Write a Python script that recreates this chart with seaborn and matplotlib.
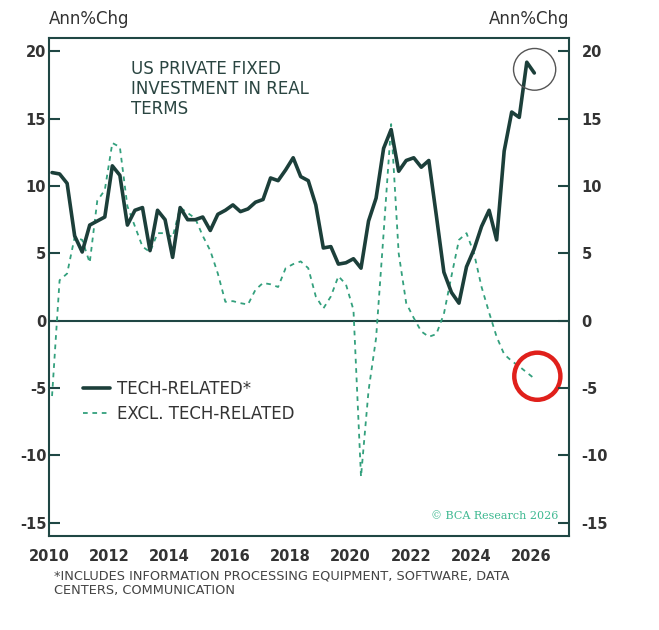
import numpy as np
import pandas as pd
import seaborn as sns
import matplotlib.pyplot as plt
from matplotlib.patches import Ellipse

# quarterly observations, 2010Q1 .. 2026Q1
dates = 2010.1 + 0.25 * np.arange(65)

tech = [11.0, 10.9, 10.2, 6.3, 5.1, 7.1, 7.4, 7.7, 11.5, 10.8,
        7.1, 8.2, 8.4, 5.2, 8.2, 7.5, 4.7, 8.4, 7.5, 7.5,
        7.7, 6.7, 7.9, 8.2, 8.6, 8.1, 8.3, 8.8, 9.0, 10.6,
        10.4, 11.2, 12.1, 10.7, 10.4, 8.6, 5.4, 5.5, 4.2, 4.3,
        4.6, 3.9, 7.4, 9.1, 12.8, 14.2, 11.1, 11.9, 12.1, 11.4,
        11.9, 7.8, 3.6, 2.1, 1.3, 4.0, 5.3, 7.0, 8.2, 6.0,
        12.6, 15.5, 15.1, 19.2, 18.4]

excl_tech = [-5.6, 3.0, 3.5, 6.2, 6.0, 4.3, 8.9, 9.7, 13.2, 12.9,
             8.5, 7.0, 5.5, 5.1, 6.5, 6.5, 6.2, 8.4, 8.0, 7.6,
             6.3, 5.2, 3.5, 1.4, 1.45, 1.3, 1.2, 2.3, 2.8, 2.7,
             2.5, 3.9, 4.2, 4.4, 3.9, 1.8, 0.9, 1.8, 3.3, 2.7,
             0.8, -11.6, -5.2, -1.3, 6.5, 14.6, 5.0, 1.3, 0.2, -0.8,
             -1.2, -1.0, 0.5, 3.3, 6.0, 6.5, 5.0, 2.5, 0.6, -1.2,
             -2.5, -3.0, -3.4, -3.85, -4.3]

year_ticks = [2010, 2012, 2014, 2016, 2018, 2020, 2022, 2024, 2026]
val_ticks = [-15, -10, -5, 0, 5, 10, 15, 20]

df = pd.DataFrame({"date": dates, "tech": tech, "excl": excl_tech})

dark = "#1c3f3a"
axis_col = "#1f4744"
green = "#33a07d"
txt_col = "#333333"

sns.set_style("white")
plt.rcParams["font.family"] = ["DejaVu Sans"]
plt.rcParams["axes.unicode_minus"] = False

fig = plt.figure(figsize=(6.59, 6.3), dpi=100)
ax = fig.add_axes([0.0744, 0.1492, 0.789, 0.7905])

sns.lineplot(data=df, x="date", y="excl", ax=ax, color=green, lw=1.3,
             label="EXCL. TECH-RELATED")
ax.lines[-1].set_dashes((2.6, 2.6))
sns.lineplot(data=df, x="date", y="tech", ax=ax, color=dark, lw=2.6,
             label="TECH-RELATED*", zorder=3)

ax.axhline(0, color=axis_col, lw=1.5, zorder=1)

ax.set_xlim(2010, 2027.25)
ax.set_ylim(-16, 21)
ax.set_xticks(year_ticks)
ax.set_xticklabels([str(y) for y in year_ticks], fontweight="bold")
ax.set_yticks(val_ticks)
ax.set_yticklabels([str(v) for v in val_ticks], fontweight="bold")
ax.set_xlabel("")
ax.set_ylabel("")

for s in ax.spines.values():
    s.set_visible(True)
    s.set_color(axis_col)
    s.set_linewidth(1.5)

ax.tick_params(axis="both", direction="in", length=8, width=1.5, color=axis_col,
               labelsize=10.5, labelcolor=txt_col)
ax.tick_params(axis="y", pad=2)
ax.tick_params(axis="x", pad=9)

# right-hand scale
ax2 = ax.twinx()
ax2.set_ylim(ax.get_ylim())
ax2.set_yticks(val_ticks)
ax2.set_yticklabels([str(v) for v in val_ticks], fontweight="bold")
ax2.tick_params(axis="y", direction="in", length=8, width=1.5, color=axis_col,
                labelsize=10.5, labelcolor=txt_col, pad=9)
for s in ax2.spines.values():
    s.set_visible(False)

# legend
handles, labels = ax.get_legend_handles_labels()
order = [1, 0]
leg = ax.legend([handles[i] for i in order], [labels[i] for i in order],
                loc="upper left", bbox_to_anchor=(0.053, 0.326), frameon=False,
                fontsize=12, handlelength=1.6, handletextpad=0.4,
                labelspacing=0.42, borderaxespad=0)
for txt in leg.get_texts():
    txt.set_color(txt_col)

# annotations
ax.text(0.157, 0.955, "US PRIVATE FIXED\nINVESTMENT IN REAL\nTERMS",
        transform=ax.transAxes, ha="left", va="top", fontsize=12,
        color="#2a4541", linespacing=1.12)
fig.text(0.0744, 0.955, "Ann%Chg", ha="left", va="bottom", fontsize=12,
         color=txt_col)
fig.text(0.8634, 0.955, "Ann%Chg", ha="right", va="bottom", fontsize=12,
         color=txt_col)
ax.text(0.98, 0.03, "\u00a9 BCA Research 2026", transform=ax.transAxes,
        ha="right", va="bottom", fontsize=8, color="#3cb890",
        family="DejaVu Serif")
fig.text(0.082, 0.096,
         "*INCLUDES INFORMATION PROCESSING EQUIPMENT, SOFTWARE, DATA\nCENTERS, COMMUNICATION",
         ha="left", va="top", fontsize=9.3, color="#444444", linespacing=1.15)

ax.add_patch(Ellipse((2026.11, 18.67), 1.4, 3.1, fill=False,
                     edgecolor="#555555", lw=1.0, zorder=4))
ax.add_patch(Ellipse((2026.2, -4.13), 1.53, 3.5, fill=False,
                     edgecolor="#e0201b", lw=3.2, zorder=4))

fig.savefig("out.png", dpi=100)
